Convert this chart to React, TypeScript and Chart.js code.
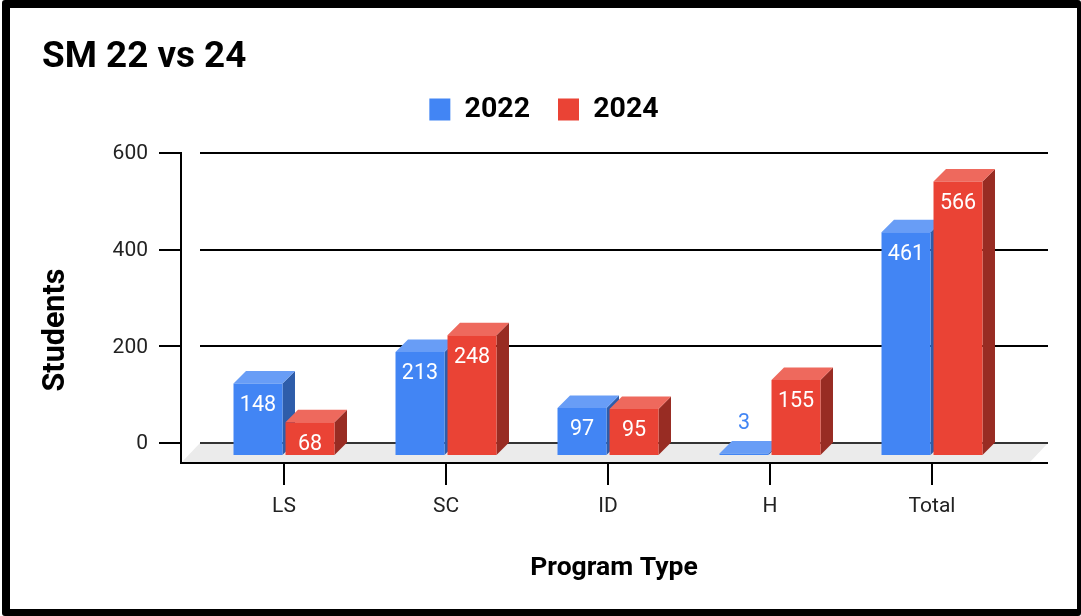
import React, { useEffect, useRef } from "react";
import { Chart, registerables } from "chart.js";

Chart.register(...registerables);

const categories = ["LS", "SC", "ID", "H", "Total"];
const series2022 = [148, 213, 97, 3, 461];
const series2024 = [68, 248, 95, 155, 566];
const yTicks = [0, 200, 400, 600];

const FONT = "Roboto, Arial, sans-serif";
const DEPTH = 12.5;
const BASE_SHIFT = 12;

const shades: Record<string, { side: string; top: string }> = {
  "#4285f4": { side: "#2e5daa", top: "#689df6" },
  "#ea4335": { side: "#982c23", top: "#ee695d" },
};

const bars3d = {
  id: "bars3d",
  beforeDatasetsDraw(chart: any) {
    const { ctx, chartArea, scales } = chart;
    const y = scales.y;
    const y0 = y.getPixelForValue(0);
    const backL = 200;
    const backR = 1048;
    const axisY = 463;
    ctx.save();
    // floor
    ctx.fillStyle = "#ebebeb";
    ctx.beginPath();
    ctx.moveTo(backL, y0);
    ctx.lineTo(backR, y0);
    ctx.lineTo(backR - 18, axisY - 1);
    ctx.lineTo(backL - 18, axisY - 1);
    ctx.closePath();
    ctx.fill();
    // gridlines and y ticks
    ctx.lineWidth = 2;
    for (const v of yTicks) {
      const p = Math.round(y.getPixelForValue(v));
      ctx.strokeStyle = v === 0 ? "#333" : "#000";
      ctx.beginPath();
      ctx.moveTo(backL, p);
      ctx.lineTo(backR, p);
      ctx.stroke();
      ctx.strokeStyle = "#000";
      ctx.beginPath();
      ctx.moveTo(159, p);
      ctx.lineTo(182, p);
      ctx.stroke();
    }
    // axes
    ctx.strokeStyle = "#000";
    ctx.beginPath();
    ctx.moveTo(181, chartArea.top - 1);
    ctx.lineTo(181, axisY);
    ctx.lineTo(backR, axisY);
    ctx.stroke();
    // x ticks
    categories.forEach((_, i) => {
      const p = Math.round(scales.x.getPixelForTick(i));
      ctx.beginPath();
      ctx.moveTo(p, axisY);
      ctx.lineTo(p, 485);
      ctx.stroke();
    });
    // side and top faces of the bars, blue first, so that every front face covers them
    ctx.translate(0, BASE_SHIFT);
    chart.data.datasets.forEach((ds: any, i: number) => {
      const s = shades[ds.backgroundColor];
      for (const el of chart.getDatasetMeta(i).data) {
        const { x, y: top, base, width } = el.getProps(["x", "y", "base", "width"], true);
        const l = x - width / 2;
        const r = x + width / 2;
        ctx.fillStyle = s.side;
        ctx.beginPath();
        ctx.moveTo(r, top);
        ctx.lineTo(r + DEPTH, top - DEPTH);
        ctx.lineTo(r + DEPTH, base - DEPTH);
        ctx.lineTo(r, base);
        ctx.closePath();
        ctx.fill();
        ctx.fillStyle = s.top;
        ctx.beginPath();
        ctx.moveTo(l, top);
        ctx.lineTo(l + DEPTH, top - DEPTH);
        ctx.lineTo(r + DEPTH, top - DEPTH);
        ctx.lineTo(r, top);
        ctx.closePath();
        ctx.fill();
      }
    });
    ctx.restore();
  },
  beforeDatasetDraw(chart: any) {
    chart.ctx.save();
    chart.ctx.translate(0, BASE_SHIFT);
  },
  afterDatasetDraw(chart: any) {
    chart.ctx.restore();
  },
  afterDatasetsDraw(chart: any) {
    const { ctx } = chart;
    ctx.save();
    ctx.font = `21.5px ${FONT}`;
    ctx.textAlign = "center";
    ctx.textBaseline = "middle";
    chart.data.datasets.forEach((ds: any, i: number) => {
      chart.getDatasetMeta(i).data.forEach((el: any, j: number) => {
        const { x, y, base } = el.getProps(["x", "y", "base"], true);
        const v = ds.data[j];
        if (base - y < 30) {
          ctx.fillStyle = ds.backgroundColor;
          ctx.fillText(String(v), x, y + BASE_SHIFT - 30);
        } else {
          ctx.fillStyle = "#fff";
          ctx.fillText(String(v), x, y + BASE_SHIFT + 22);
        }
      });
    });
    // axis titles
    ctx.fillStyle = "#000";
    ctx.font = `bold 26.5px ${FONT}`;
    ctx.fillText("Program Type", 614, 568);
    ctx.font = `bold 30.5px ${FONT}`;
    ctx.translate(56, 330);
    ctx.rotate(-Math.PI / 2);
    ctx.fillText("Students", 0, 0);
    ctx.restore();
  },
};

export default function App() {
  const ref = useRef<HTMLCanvasElement>(null);
  useEffect(() => {
    const chart = new Chart(ref.current!, {
      type: "bar",
      data: {
        labels: categories,
        datasets: [
          { label: "2022", data: series2022, backgroundColor: "#4285f4", clip: false as any },
          { label: "2024", data: series2024, backgroundColor: "#ea4335", clip: false as any },
        ],
      },
      plugins: [bars3d],
      options: {
        responsive: false,
        animation: false,
        borderWidth: 0,
        layout: { padding: { left: 42, right: 35, top: 0, bottom: 0 } },
        categoryPercentage: 0.642,
        barPercentage: 0.942,
        plugins: {
          tooltip: { enabled: false },
          title: {
            display: true,
            text: "SM 22 vs 24",
            align: "start",
            color: "#000",
            font: { family: FONT, size: 36.8, weight: "bold", lineHeight: 0.5 },
            padding: { top: 48.9, bottom: 0 },
          },
          legend: {
            display: true,
            position: "top",
            onClick: () => {},
            labels: {
              boxWidth: 21,
              boxHeight: 22,
              padding: 28,
              color: "#000",
              font: { family: FONT, size: 28.5, weight: "bold" },
            },
          },
        },
        scales: {
          x: {
            type: "category",
            grid: { display: false, drawTicks: false },
            border: { display: false },
            ticks: { color: "#222", font: { family: FONT, size: 21 }, padding: 51, maxRotation: 0 },
            afterFit: (s: any) => { s.height = 173; },
          },
          y: {
            type: "linear",
            min: 0,
            max: 600,
            afterBuildTicks: (s: any) => { s.ticks = yTicks.map((value) => ({ value })); },
            grid: { display: false, drawTicks: false },
            border: { display: false },
            ticks: { color: "#222", font: { family: FONT, size: 21 }, padding: 55, labelOffset: 1 },
            afterFit: (s: any) => { s.width = 161; },
          },
          pad: {
            type: "linear",
            position: "right",
            display: true,
            grid: { display: false, drawTicks: false },
            border: { display: false },
            ticks: { display: false },
            afterFit: (s: any) => { s.width = 33; },
          },
          padTop: {
            type: "category",
            position: "top",
            display: true,
            grid: { display: false, drawTicks: false },
            border: { display: false },
            ticks: { display: false },
            afterFit: (s: any) => { s.height = 19.2; },
          },
        },
      } as any,
    });
    return () => chart.destroy();
  }, []);
  return (
    <div style={{ position: "fixed", left: 0, top: 0, width: 1081, height: 616, background: "#fff" }}>
      <canvas ref={ref} width={1081} height={616} style={{ position: "absolute", left: 0, top: 0 }} />
      <div style={{ position: "absolute", left: 2, top: 0, right: 0, bottom: 0, boxSizing: "border-box", borderStyle: "solid", borderColor: "#000", borderWidth: "8px 4px 7px 8px", borderRadius: 3, pointerEvents: "none" }} />
    </div>
  );
}
